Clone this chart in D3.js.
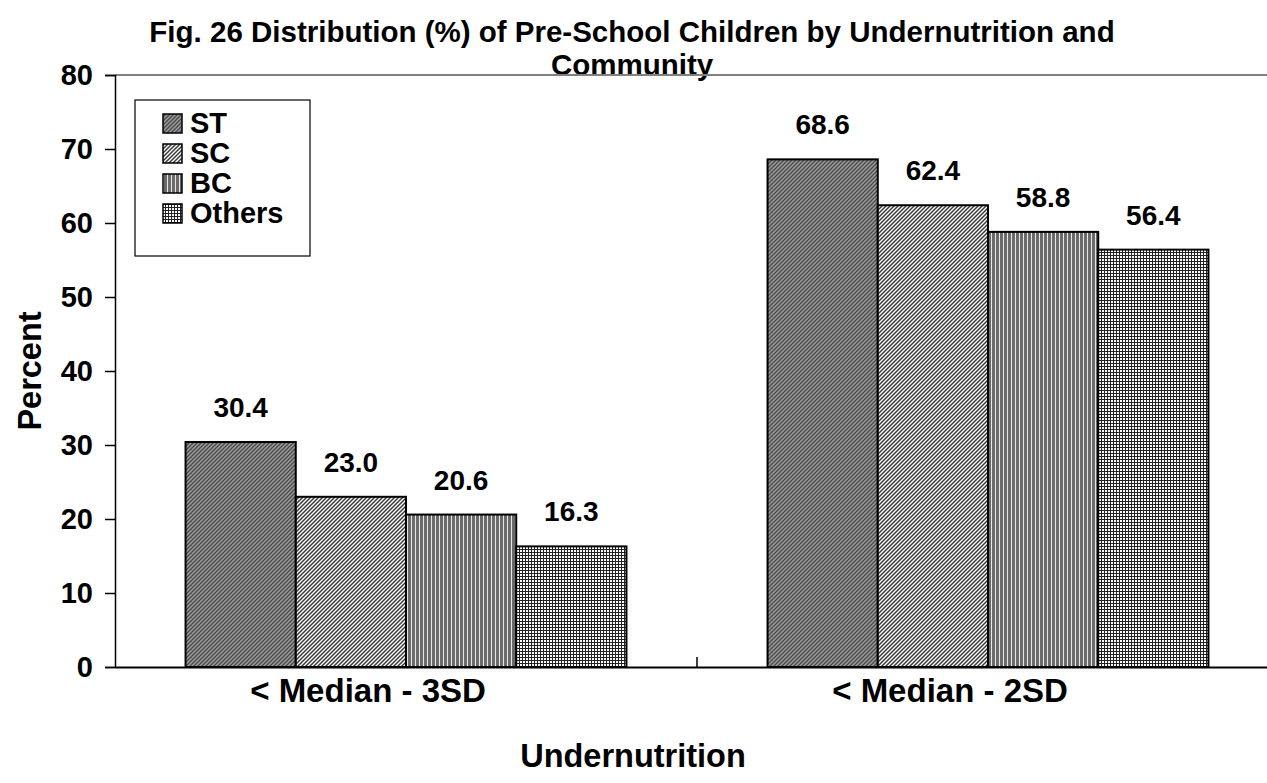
<!DOCTYPE html>
<html><head><meta charset="utf-8">
<script src="https://cdn.jsdelivr.net/npm/d3@7"></script>
<style>body{margin:0;background:#fff}text{font-family:"Liberation Sans",Arial,sans-serif;font-weight:bold}</style>
</head><body><svg id="c" width="1267" height="783"></svg>
<script>
const categories = ["< Median - 3SD", "< Median - 2SD"];
const seriesNames = ["ST", "SC", "BC", "Others"];
const stValues = [30.4, 68.6];
const scValues = [23.0, 62.4];
const bcValues = [20.6, 58.8];
const othersValues = [16.3, 56.4];
const yTicks = [0, 10, 20, 30, 40, 50, 60, 70, 80];
const seriesValues = [stValues, scValues, bcValues, othersValues];

const svg = d3.select("#c");
const W = 1267, H = 783;
const m = {left: 115, top: 75, bottom: 667, right: 1279};

// patterns
const defs = svg.append("defs");
function pat(id, size, build) {
  const p = defs.append("pattern").attr("id", id).attr("patternUnits", "userSpaceOnUse")
    .attr("width", size).attr("height", size);
  build(p);
}
pat("pST", 4, p => {
  p.append("rect").attr("width", 4).attr("height", 4).attr("fill", "#9a9a9a");
  p.append("path").attr("d", "M-1,1 L1,-1 M0,4 L4,0 M3,5 L5,3").attr("stroke", "#4a4a4a").attr("stroke-width", 1.3);
});
pat("pSC", 4, p => {
  p.append("rect").attr("width", 4).attr("height", 4).attr("fill", "#ffffff");
  p.append("path").attr("d", "M-1,1 L1,-1 M0,4 L4,0 M3,5 L5,3").attr("stroke", "#3a3a3a").attr("stroke-width", 1.5);
});
pat("pBC", 4, p => {
  p.append("rect").attr("width", 4).attr("height", 4).attr("fill", "#6a6a6a");
  p.append("rect").attr("x", 3).attr("width", 1).attr("height", 4).attr("fill", "#e8e8e8");
});
pat("pOT", 3, p => {
  p.append("rect").attr("width", 3).attr("height", 3).attr("fill", "#ffffff");
  p.append("rect").attr("x", 0).attr("width", 1).attr("height", 3).attr("fill", "#222");
  p.append("rect").attr("y", 0).attr("width", 3).attr("height", 1).attr("fill", "#222");
});
const fills = ["url(#pST)", "url(#pSC)", "url(#pBC)", "url(#pOT)"];

const x0 = d3.scaleBand().domain(categories).range([m.left, m.right]).paddingInner(0).paddingOuter(0);
const x1 = d3.scaleBand().domain(seriesNames).range([0, x0.bandwidth()]).paddingOuter(0.64).paddingInner(0);
const y = d3.scaleLinear().domain([0, 80]).range([m.bottom, m.top]);

// titles (drawn before the top line so the line crosses the second line as in the reference)
svg.append("text").attr("x", 632).attr("y", 42).attr("text-anchor", "middle").attr("font-size", 29.5)
  .text("Fig. 26 Distribution (%) of Pre-School Children by Undernutrition and");
svg.append("text").attr("x", 632).attr("y", 75).attr("text-anchor", "middle").attr("font-size", 29.5)
  .text("Community");

// top line (plot border)
svg.append("line").attr("x1", m.left).attr("x2", W).attr("y1", y(80)).attr("y2", y(80))
  .attr("stroke", "#808080").attr("stroke-width", 2);

// y axis
const yAxis = d3.axisLeft(y).tickValues(yTicks).tickSize(10).tickPadding(12);
const ya = svg.append("g").attr("transform", `translate(${m.left},0)`).call(yAxis);
ya.select(".domain").attr("stroke", "#000").attr("stroke-width", 1.5);
ya.selectAll(".tick line").attr("stroke", "#000").attr("stroke-width", 1.5);
ya.selectAll(".tick text").attr("font-size", 29).attr("font-weight", "bold").attr("fill", "#000")
  .attr("font-family", "Liberation Sans, Arial, sans-serif");

// bars
categories.forEach((cat, ci) => {
  seriesNames.forEach((s, si) => {
    const v = seriesValues[si][ci];
    const bx = x0(cat) + x1(s);
    svg.append("rect").attr("x", bx).attr("y", y(v)).attr("width", x1.bandwidth()).attr("height", y(0) - y(v))
      .attr("fill", fills[si]).attr("stroke", "#000").attr("stroke-width", 2);
    svg.append("text").attr("x", bx + x1.bandwidth() / 2).attr("y", y(v) - 25)
      .attr("text-anchor", "middle").attr("font-size", 28).attr("fill", "#000").text(v.toFixed(1));
  });
});

// x axis
const xAxis = d3.axisBottom(x0).tickSize(0).tickPadding(0);
const xa = svg.append("g").attr("transform", `translate(0,${m.bottom})`).call(xAxis);
xa.select(".domain").attr("stroke", "#000").attr("stroke-width", 2);
xa.selectAll(".tick text").attr("font-size", 33).attr("font-weight", "bold").attr("fill", "#000")
  .attr("font-family", "Liberation Sans, Arial, sans-serif").attr("dy", null).attr("y", 35).attr("x", -38);
// category separator tick (inward)
svg.append("line").attr("x1", x0(categories[1])).attr("x2", x0(categories[1]))
  .attr("y1", m.bottom - 10).attr("y2", m.bottom).attr("stroke", "#000").attr("stroke-width", 1.5);

svg.append("text").attr("transform", "translate(41,371) rotate(-90)").attr("text-anchor", "middle")
  .attr("font-size", 32.5).text("Percent");
svg.append("text").attr("x", 633).attr("y", 767).attr("text-anchor", "middle").attr("font-size", 32.5)
  .text("Undernutrition");

// legend
const lg = svg.append("g");
lg.append("rect").attr("x", 135).attr("y", 100).attr("width", 175).attr("height", 156)
  .attr("fill", "#fff").attr("stroke", "#000").attr("stroke-width", 1.2);
seriesNames.forEach((s, i) => {
  const cy = 123 + i * 30;
  lg.append("rect").attr("x", 163).attr("y", cy - 9).attr("width", 19).attr("height", 19)
    .attr("fill", fills[i]).attr("stroke", "#000").attr("stroke-width", 1.5);
  lg.append("text").attr("x", 190).attr("y", cy + 10).attr("font-size", 29).text(s);
});
</script></body></html>
